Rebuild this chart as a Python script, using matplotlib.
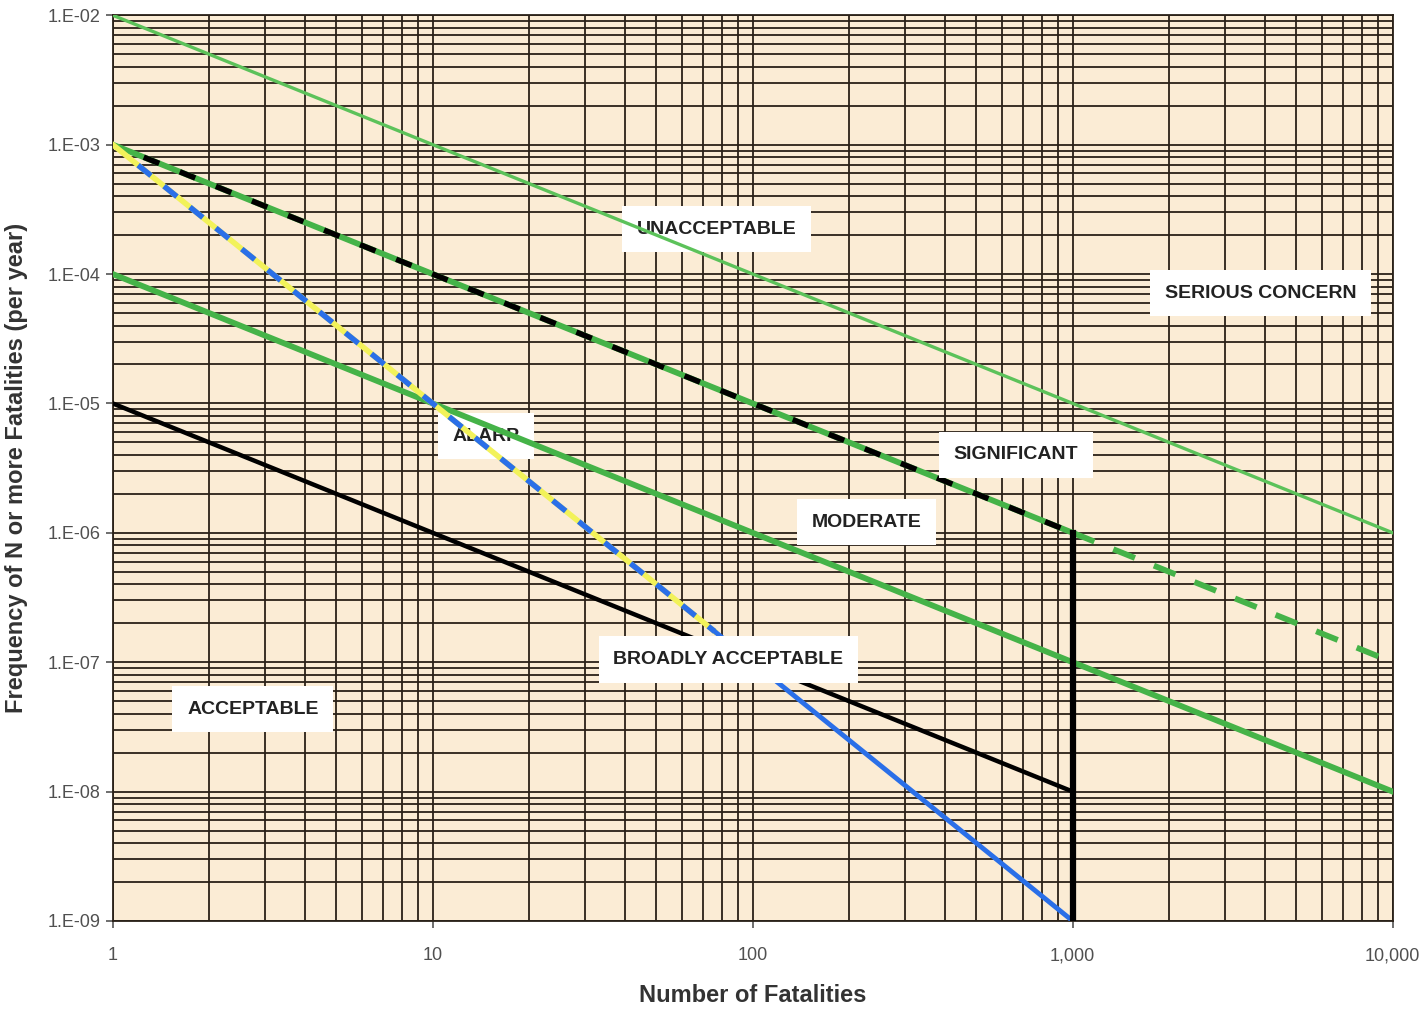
import matplotlib
matplotlib.use("Agg")
import matplotlib.pyplot as plt
from matplotlib.ticker import FixedLocator, FixedFormatter, LogLocator, NullFormatter

# criterion lines, as (N, F) end points
upper_n = [1, 10000]
upper_f = [1e-2, 1e-6]
intol_n = [1, 1000]
intol_f = [1e-3, 1e-6]
intol_ext_n = [1000, 10000]
intol_ext_f = [1e-6, 1e-7]
neglig_n = [1, 10000]
neglig_f = [1e-4, 1e-8]
accept_n = [1, 1000]
accept_f = [1e-5, 1e-8]
cutoff_n = [1000, 1000]
cutoff_f = [1e-9, 1e-6]
alarp_black_n = [1.25, 1000]
alarp_black_f = [8e-4, 1e-6]
yellow_n = [1, 76]
yellow_f = [1e-3, 1.73e-7]
blue_dash_n = [1.2, 76]
blue_dash_f = [6.94e-4, 1.73e-7]
blue_solid_n = [76, 1000]
blue_solid_f = [1.73e-7, 1e-9]

# region labels; the last column says whether the label sits under the lines
region_text = ["UNACCEPTABLE", "SERIOUS CONCERN", "ALARP", "SIGNIFICANT",
               "MODERATE", "BROADLY ACCEPTABLE", "ACCEPTABLE"]
region_n = [77, 3870, 14.7, 663, 227, 84, 2.74]
region_f = [2.22e-4, 7.1e-5, 5.6e-6, 4.0e-6, 1.21e-6, 1.05e-7, 4.34e-8]
region_under = [True, False, True, False, False, False, False]

x_ticks = [1, 10, 100, 1000, 10000]
x_labels = ["1", "10", "100", "1,000", "10,000"]
y_ticks = [1e-9, 1e-8, 1e-7, 1e-6, 1e-5, 1e-4, 1e-3, 1e-2]
y_labels = ["1.E-09", "1.E-08", "1.E-07", "1.E-06", "1.E-05", "1.E-04", "1.E-03", "1.E-02"]

narrow = ["Liberation Sans Narrow", "Liberation Sans", "DejaVu Sans"]
green = "#45b348"
grid_col = "#2a2118"

fig = plt.figure(figsize=(14.27, 10.17), dpi=100)
ax = fig.add_axes([0.079, 0.0944, 0.897, 0.8906])
ax.set_xscale("log")
ax.set_yscale("log")
ax.set_xlim(1, 10000)
ax.set_ylim(1e-9, 1e-2)
ax.set_facecolor("#fbecd5")

ax.xaxis.set_major_locator(FixedLocator(x_ticks))
ax.xaxis.set_major_formatter(FixedFormatter(x_labels))
ax.yaxis.set_major_locator(FixedLocator(y_ticks))
ax.yaxis.set_major_formatter(FixedFormatter(y_labels))
ax.xaxis.set_minor_locator(LogLocator(base=10, subs=range(2, 10), numticks=20))
ax.yaxis.set_minor_locator(LogLocator(base=10, subs=range(2, 10), numticks=20))
ax.xaxis.set_minor_formatter(NullFormatter())
ax.yaxis.set_minor_formatter(NullFormatter())
ax.grid(True, which="both", color=grid_col, lw=1.3, zorder=0)
ax.set_axisbelow(True)
ax.tick_params(which="minor", length=0)
ax.tick_params(which="major", length=5, width=1.2, color="#555555", direction="out")
ax.tick_params(axis="x", pad=14)
ax.tick_params(axis="y", pad=4)
for s in ax.spines.values():
    s.set_color(grid_col)
    s.set_linewidth(1.3)

for lbl in ax.get_xticklabels() + ax.get_yticklabels():
    lbl.set_family(narrow)
    lbl.set_fontsize(13)
    lbl.set_color("#505050")

# green criterion lines
ax.plot(upper_n, upper_f, color="#5cc25a", lw=2.4, zorder=3)
ax.plot(intol_n, intol_f, color=green, lw=4.2, zorder=3)
ax.plot(intol_ext_n, intol_ext_f, color=green, lw=4.2, ls=(0, (4, 3.5)), zorder=3)
ax.plot(neglig_n, neglig_f, color=green, lw=4.2, zorder=3)
ax.plot(alarp_black_n, alarp_black_f, color="black", lw=4, ls=(0, (3, 4)), zorder=4)
ax.plot(yellow_n, yellow_f, color="#f2f25a", lw=4, zorder=4)
ax.plot(blue_dash_n, blue_dash_f, color="#2a6fe8", lw=4, ls=(0, (3, 3)), zorder=5)
ax.plot(blue_solid_n, blue_solid_f, color="#2a6fe8", lw=3.5, zorder=4)
ax.plot(accept_n, accept_f, color="black", lw=3.2, zorder=4)
ax.plot(cutoff_n, cutoff_f, color="black", lw=4.5, zorder=5)

for txt, n, f, under in zip(region_text, region_n, region_f, region_under):
    ax.text(n, f, txt, ha="center", va="center", fontsize=14, fontweight="bold",
            family=narrow, color="#222222", zorder=2 if under else 6,
            bbox=dict(boxstyle="square,pad=0.75", fc="white", ec="none"))

ax.set_xlabel("Number of Fatalities", fontsize=17, fontweight="bold",
              family=narrow, color="#333333", labelpad=14)
ax.set_ylabel("Frequency of N or more Fatalities (per year)", fontsize=17,
              fontweight="bold", family=narrow, color="#333333", labelpad=14)

fig.savefig("out.png", dpi=100, facecolor="white")
